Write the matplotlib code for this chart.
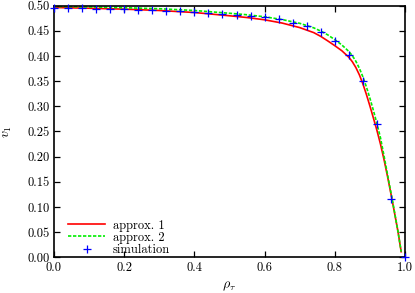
"""v_1 against rho_tau: two approximations and simulation."""

import matplotlib
matplotlib.use("Agg")
import matplotlib.pyplot as plt

plt.rcParams["font.family"] = "serif"
plt.rcParams["font.serif"] = ["cmr10", "DejaVu Serif"]
plt.rcParams["mathtext.fontset"] = "cm"
plt.rcParams["axes.formatter.use_mathtext"] = True

# approx. 1 (red, solid)
approx1_x = [0.0, 0.1, 0.2, 0.3, 0.4, 0.5, 0.55, 0.6, 0.65, 0.7, 0.74, 0.76, 0.78,
             0.8, 0.82, 0.84, 0.85, 0.86, 0.87, 0.88, 0.89, 0.9, 0.91, 0.92, 0.93,
             0.94, 0.95, 0.96, 0.97, 0.98, 0.989]
approx1_y = [0.4965, 0.495, 0.4932, 0.4905, 0.4865, 0.480, 0.4765, 0.472, 0.4655,
             0.4565, 0.4465, 0.439, 0.430, 0.4205, 0.4105, 0.3975, 0.3885, 0.377,
             0.3625, 0.3445, 0.3235, 0.3005, 0.2765, 0.252, 0.225, 0.1945, 0.161,
             0.1255, 0.0885, 0.0505, 0.011]

# approx. 2 (green, dashed)
approx2_x = [0.0, 0.1, 0.2, 0.3, 0.4, 0.5, 0.55, 0.6, 0.65, 0.7, 0.74, 0.76, 0.78,
             0.8, 0.82, 0.84, 0.85, 0.86, 0.87, 0.88, 0.89, 0.9, 0.91, 0.92, 0.93,
             0.94, 0.95, 0.96, 0.97, 0.98, 0.989]
approx2_y = [0.4985, 0.4975, 0.496, 0.494, 0.4905, 0.485, 0.482, 0.478, 0.4725,
             0.465, 0.456, 0.4495, 0.442, 0.4325, 0.422, 0.409, 0.4005, 0.3895,
             0.3755, 0.3585, 0.3385, 0.316, 0.2915, 0.2655, 0.2375, 0.202, 0.165,
             0.128, 0.090, 0.051, 0.011]

# simulation (blue crosses)
sim_x = [0.00, 0.04, 0.08, 0.12, 0.16, 0.20, 0.24, 0.28, 0.32, 0.36, 0.40, 0.44,
         0.48, 0.52, 0.56, 0.60, 0.64, 0.68, 0.72, 0.76, 0.80, 0.84, 0.88, 0.92,
         0.96, 1.00]
sim_y = [0.4955, 0.495, 0.4945, 0.494, 0.4933, 0.4925, 0.4917, 0.4908, 0.4897,
         0.4885, 0.487, 0.4855, 0.4838, 0.4815, 0.480, 0.478, 0.473, 0.466, 0.460,
         0.447, 0.429, 0.403, 0.351, 0.265, 0.116, 0.0]

fig = plt.figure(figsize=(4.15, 2.93), dpi=100)
ax = fig.add_axes([0.130, 0.122, 0.846, 0.8585])

ax.plot(approx1_x, approx1_y, color="#ff0000", linewidth=1.2, label="approx. 1")
ax.plot(approx2_x, approx2_y, color="#00ee00", linewidth=1.2,
        dashes=(2, 1), label="approx. 2")
ax.plot(sim_x, sim_y, linestyle="none", marker="+", color="#0000ff",
        markersize=5.5, markeredgewidth=0.9, clip_on=False, label="simulation",
        zorder=5)

ax.set_xlim(0, 1)
ax.set_ylim(0, 0.5)
ax.set_xticks([0.0, 0.2, 0.4, 0.6, 0.8, 1.0])
ax.set_yticks([i * 0.05 for i in range(11)])
ax.set_xticklabels(["0.0", "0.2", "0.4", "0.6", "0.8", "1.0"])
ax.set_yticklabels([f"{i * 0.05:.2f}" for i in range(11)])
ax.tick_params(direction="in", top=True, right=True, length=4, width=0.9,
               labelsize=9, pad=3)
for s in ax.spines.values():
    s.set_linewidth(1.2)

ax.set_xlabel(r"$\rho_\tau$", fontsize=10, labelpad=4.5)
ax.set_ylabel(r"$v_1$", fontsize=10, labelpad=10)

ax.legend(loc="lower left", bbox_to_anchor=(0.04, 0.005), frameon=False,
          fontsize=9, handlelength=3.0, handletextpad=0.6, labelspacing=0.0,
          borderpad=0.0, borderaxespad=0.0)

fig.savefig("out.png", dpi=100)
plt.close(fig)
